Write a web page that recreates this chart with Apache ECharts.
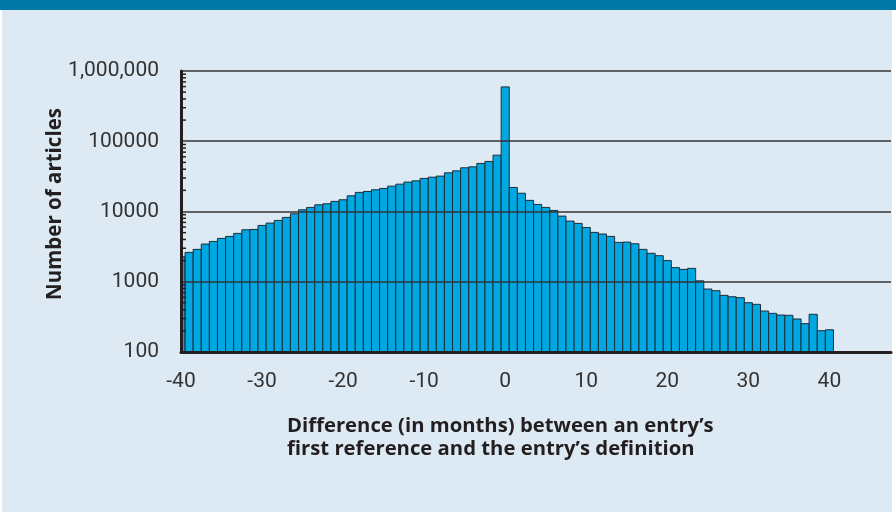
<!DOCTYPE html>
<html>
<head>
<meta charset="utf-8">
<script src="https://cdn.jsdelivr.net/npm/echarts/dist/echarts.min.js"></script>
<style>
  html, body { margin: 0; padding: 0; background: #fff; }
  #chart_articles { width: 896px; height: 512px; }
</style>
</head>
<body>
<div id="chart_articles"></div>
<script>
// months between first reference and definition
const months = [
  -40, -39, -38, -37, -36, -35, -34, -33, -32, -31,
  -30, -29, -28, -27, -26, -25, -24, -23, -22, -21,
  -20, -19, -18, -17, -16, -15, -14, -13, -12, -11,
  -10, -9, -8, -7, -6, -5, -4, -3, -2, -1,
  0, 1, 2, 3, 4, 5, 6, 7, 8, 9,
  10, 11, 12, 13, 14, 15, 16, 17, 18, 19,
  20, 21, 22, 23, 24, 25, 26, 27, 28, 29,
  30, 31, 32, 33, 34, 35, 36, 37, 38, 39,
  40
];

// number of articles
const articles = [
  2270, 2620, 2890, 3440, 3750, 4140, 4420, 4880, 5490, 5560,
  6340, 6840, 7470, 8240, 9270, 10570, 11430, 12450, 12880, 13930,
  14690, 16720, 18700, 19300, 20400, 21300, 22960, 24500, 26200, 27300,
  29600, 30800, 31900, 35500, 37900, 41900, 43200, 48300, 51600, 63400,
  594000, 22000, 18200, 14400, 12600, 11430, 10350, 8600, 7300, 6770,
  5930, 5040, 4780, 4420, 3630, 3670, 3470, 2890, 2540, 2350,
  2000, 1590, 1500, 1550, 1030, 787, 745, 640, 612, 593,
  503, 477, 383, 355, 336, 333, 295, 253, 344, 201,
  207
];

// small inside ticks on the log axis
const minorTicks = [
  200, 300, 400, 500, 600, 700, 800, 900,
  2000, 3000, 4000, 5000, 6000, 7000, 8000, 9000,
  20000, 30000, 40000, 50000, 60000, 70000, 80000, 90000,
  200000, 300000, 400000, 500000, 600000, 700000, 800000, 900000
];

const xTicks = [-40, -30, -20, -10, 0, 10, 20, 30, 40];
const yMin = 100;

let chart = echarts.init(document.getElementById('chart_articles'));

// one month wide bars, clipped to the grid so the -40 bar sits half under the axis
function renderBar(params, api) {
  let m = api.value(0);
  let v = api.value(1);
  let p0 = api.coord([m - 0.5, v]);
  let p1 = api.coord([m + 0.5, yMin]);
  let cs = params.coordSys;
  let rect = echarts.graphic.clipRectByRect(
    { x: p0[0], y: p0[1], width: p1[0] - p0[0], height: p1[1] - p0[1] },
    { x: cs.x, y: cs.y, width: cs.width, height: cs.height }
  );
  return rect && {
    type: 'rect',
    shape: rect,
    style: { fill: '#00a7e1', stroke: '#1b2d3a', lineWidth: 1 }
  };
}

let option = {
  backgroundColor: '#ffffff',
  animation: false,
  graphic: [
    {
      type: 'rect', z: -10, silent: true,
      shape: { x: 2, y: 0, width: 890, height: 512 },
      style: { fill: '#ddeaf3' }
    },
    {
      type: 'rect', z: -9, silent: true,
      shape: { x: 0, y: 0, width: 896, height: 10 },
      style: { fill: '#0078a5' }
    }
  ],
  title: {
    text: 'Difference (in months) between an entry\u2019s\nfirst reference and the entry\u2019s definition',
    left: 282,
    top: 410,
    textStyle: {
      fontFamily: 'Open Sans',
      fontSize: 20.3,
      fontWeight: 'bold',
      color: '#231f20',
      lineHeight: 23
    }
  },
  grid: {
    left: 181,
    right: 5,
    top: 71,
    bottom: 160
  },
  xAxis: {
    type: 'value',
    min: -40,
    max: 47.6,
    interval: 10,
    z: 4,
    axisLine: { show: true, onZero: false, lineStyle: { color: '#231f20', width: 3 } },
    axisTick: { show: false },
    splitLine: { show: false },
    axisLabel: {
      showMaxLabel: false,
      margin: 19,
      fontFamily: 'Roboto',
      fontSize: 21,
      color: '#333333',
      formatter: function (v) {
        return xTicks.indexOf(v) >= 0 ? String(v) : '';
      }
    }
  },
  yAxis: {
    type: 'log',
    logBase: 10,
    min: yMin,
    max: 1000000,
    z: 4,
    name: 'Number of articles',
    nameLocation: 'middle',
    nameRotate: 90,
    nameGap: 115,
    nameMoveOverlap: false,
    nameTextStyle: {
      fontFamily: 'Open Sans',
      fontSize: 20.5,
      fontWeight: 'bold',
      color: '#231f20',
      padding: [0, 0, 0, 15]
    },
    axisLine: { show: true, onZero: false, lineStyle: { color: '#231f20', width: 3 } },
    axisTick: { show: false },
    splitLine: { show: true, lineStyle: { color: '#333333', width: 1.5 } },
    axisLabel: {
      margin: 22,
      fontFamily: 'Roboto',
      fontSize: 21,
      color: '#333333',
      formatter: function (v) {
        return v === 1000000 ? '1,000,000' : String(v);
      }
    }
  },
  series: [
    {
      type: 'custom',
      z: 2,
      silent: true,
      data: months.map((m, i) => [m, articles[i]]),
      renderItem: renderBar
    },
    {
      type: 'custom',
      z: 5,
      clip: false,
      silent: true,
      data: minorTicks.map(v => [-40, v]),
      renderItem: function (params, api) {
        let p = api.coord([api.value(0), api.value(1)]);
        return {
          type: 'line',
          shape: { x1: p[0], y1: p[1], x2: p[0] + 5, y2: p[1] },
          style: { stroke: '#231f20', lineWidth: 1.5 }
        };
      }
    }
  ]
};

chart.setOption(option);
</script>
</body>
</html>
